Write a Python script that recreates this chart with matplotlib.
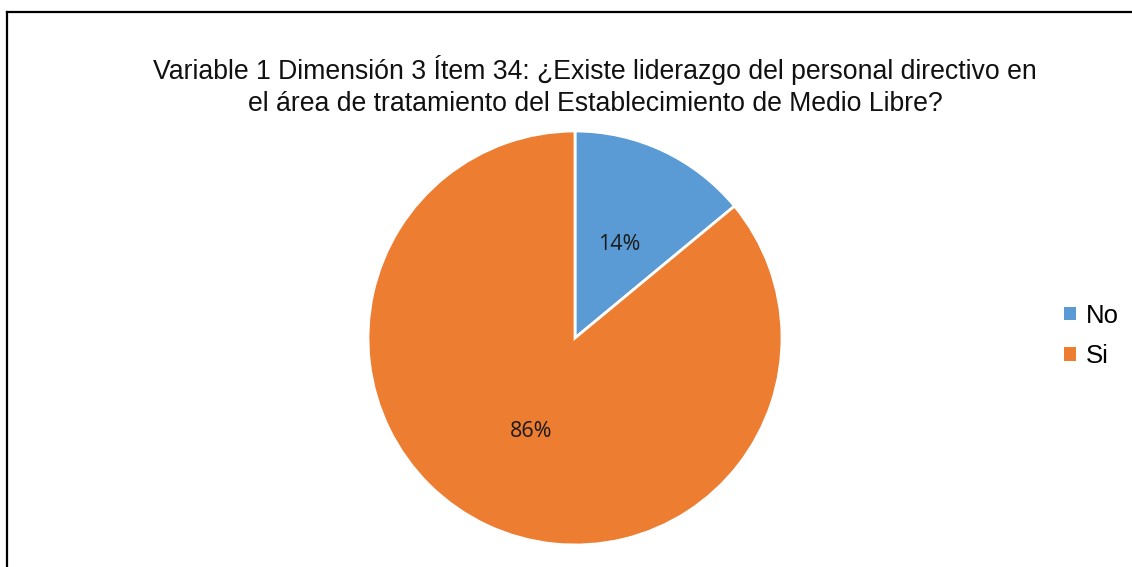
import matplotlib.pyplot as plt
from matplotlib.lines import Line2D
from matplotlib.patches import Patch

plt.rcParams['font.family'] = ['Liberation Sans', 'DejaVu Sans']

# data
labels = ["No", "Si"]
values = [14, 86]
colors = ["#5B9BD5", "#ED7D31"]
title = ("Variable 1 Dimensión 3 Ítem 34: ¿Existe liderazgo del personal directivo en\n"
         "el área de tratamiento del Establecimiento de Medio Libre?")

W, H = 1132, 567
fig = plt.figure(figsize=(W / 100, H / 100), dpi=100)

# outer chart frame (only left and top edges are visible)
fig.add_artist(Line2D([7 / W, 7 / W], [0, 1 - 12 / H], color="black", lw=1.6))
fig.add_artist(Line2D([7 / W, 1], [1 - 12 / H, 1 - 12 / H], color="black", lw=1.6))

# pie axes: center (575, 338), radius 207 px
cx, cy, r = 575, 338, 207
ax = fig.add_axes([(cx - r) / W, (H - cy - r) / H, 2 * r / W, 2 * r / H])
wedges, texts, autotexts = ax.pie(
    values, colors=colors, startangle=90, counterclock=False,
    autopct="%1.0f%%", pctdistance=0.5,
    wedgeprops=dict(edgecolor="white", linewidth=2),
    textprops=dict(fontsize=15.5, color="#1a1a1a", family=["Open Sans", "DejaVu Sans"]),
)
ax.set_xlim(-1, 1)
ax.set_ylim(-1, 1)
ax.set_aspect("equal")

fig.text(595 / W, 1 - 55 / H, title, ha="center", va="top", fontsize=19.2,
         linespacing=1.32, color="#111111")

handles = [Patch(facecolor=c, edgecolor="none") for c in colors]
fig.legend(handles, labels, loc="center left", bbox_to_anchor=(1041 / W, 1 - 336 / H),
           frameon=False, fontsize=18.5, handlelength=0.45, handleheight=0.45,
           handletextpad=0.4, labelspacing=0.65)

fig.savefig("out.png", dpi=100)
